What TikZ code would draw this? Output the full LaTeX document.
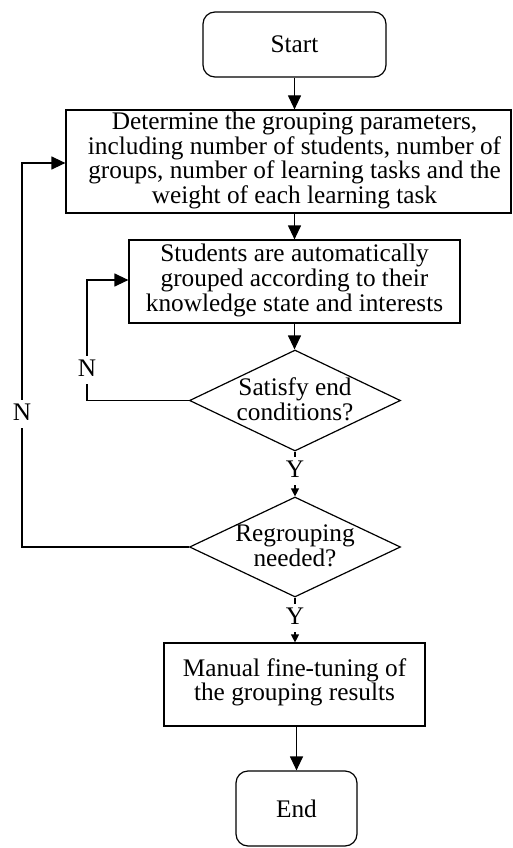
\documentclass[tikz,border=0pt]{standalone}
\usepackage{fontspec}
\setmainfont{Liberation Serif}
\usetikzlibrary{shapes.geometric,arrows.meta}
\begin{document}
\begin{tikzpicture}[x=1pt,y=-1pt,
  every node/.style={font=\fontsize{25.3}{24.6}\selectfont},
  box/.style={draw, line width=1.2pt, inner sep=0pt},
  term/.style={box, rounded corners=12pt},
  dia/.style={draw, line width=1.2pt, diamond, inner sep=0pt},
  txt/.style={align=center, inner sep=0pt},
  lab/.style={fill=white, inner sep=2pt, text height=18pt, text depth=6pt},
  arr/.style={line width=1.2pt, -{Triangle[length=14pt,width=13pt]}},
  sarr/.style={line width=1.2pt, -{Triangle[length=8pt,width=8pt]}}]
\useasboundingbox (0,0) rectangle (512,848);
% nodes
\node[term, minimum width=183pt, minimum height=65pt] (start) at (294.5,44.5) {Start};
\node[box, minimum width=445pt, minimum height=103pt] (p1) at (288.5,161.5) {};
\node[txt] (p1t) at (294.5,160.5) {Determine the grouping parameters,\\including number of students, number of\\groups, number of learning tasks and the\\weight of each learning task};
\node[box, minimum width=331pt, minimum height=83pt] (p2) at (294.5,281.5) {};
\node[txt] (p2t) at (294.5,280.5) {Students are automatically\\grouped according to their\\knowledge state and interests};
\node[dia, minimum width=211pt, minimum height=101pt] (d1) at (295,400.5) {};
\node[txt] (d1t) at (295,399) {Satisfy end\\conditions?};
\node[dia, minimum width=211pt, minimum height=100pt] (d2) at (295,547) {};
\node[txt] (d2t) at (295,546) {Regrouping\\needed?};
\node[box, minimum width=261pt, minimum height=83pt] (p3) at (294.5,684.5) {};
\node[txt] (p3t) at (294.5,682.5) {Manual fine-tuning of\\the grouping results};
\node[term, minimum width=121pt, minimum height=75pt] (end) at (296.5,808.5) {End};
% connectors
\draw[arr] (start.south) -- (start.south |- p1.north);
\draw[arr] (p1.south -| p2.north) -- (p2.north);
\draw[arr] (p2.south) -- (p2.south |- d1.north);
\draw[sarr] (d1.south) -- (d2.north);
\node[lab] (y1) at (295,471) {Y};
\draw[sarr] (d2.south) -- (d2.south |- p3.north);
\node[lab] (y2) at (295,618) {Y};
\draw[arr] (p3.south -| end.north) -- (end.north);
\coordinate (c1) at (87,280);
\draw[arr] (d1.west) -| (c1) -- (c1 -| p2.west);
\node[lab] (n1) at (87,370) {N};
\coordinate (c2) at (22,163);
\draw[arr] (d2.west) -| (c2) -- (c2 -| p1.west);
\node[lab] (n2) at (22,414) {N};
\end{tikzpicture}
\end{document}
